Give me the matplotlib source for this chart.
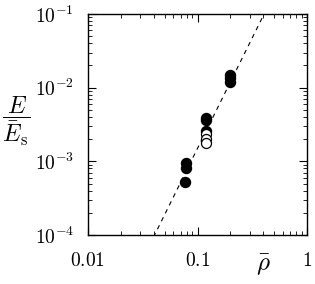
import numpy as np
import matplotlib
matplotlib.use('Agg')
import matplotlib.pyplot as plt

plt.rcParams['mathtext.fontset'] = 'cm'
plt.rcParams['font.family'] = 'serif'
plt.rcParams['font.serif'] = ['DejaVu Serif']

# filled circles
rho_full = [0.078, 0.078, 0.077, 0.119, 0.119, 0.119, 0.198, 0.198, 0.198]
E_full = [9.6e-4, 8.0e-4, 5.3e-4, 3.9e-3, 3.6e-3, 2.6e-3, 1.5e-2, 1.35e-2, 1.2e-2]
# open circles
rho_open = [0.119, 0.119, 0.119]
E_open = [2.35e-3, 2.0e-3, 1.8e-3]
# power-law guide E = C rho^3
C = 1.5
rho_line = [0.01, 1.0]

fig = plt.figure(figsize=(3.15, 2.84), dpi=100)
ax = fig.add_axes([88/315, 49/284, 219/315, 221/284])

ax.plot(rho_line, [C * r**3 for r in rho_line], 'k--', lw=0.8, dashes=(4, 4))
ax.plot(rho_full, E_full, 'o', ms=7.2, mfc='black', mec='black', ls='none')
ax.plot(rho_open, E_open, 'o', ms=7.2, mfc='white', mec='black', mew=0.9, ls='none')

ax.set_xscale('log')
ax.set_yscale('log')
ax.set_xlim(0.01, 1)
ax.set_ylim(1e-4, 1e-1)
ax.set_xticks([0.01, 0.1, 1])
ax.set_xticklabels([r'$0.01$', r'$0.1$', r'$1$'])
ax.set_yticks([1e-4, 1e-3, 1e-2, 1e-1])
ax.set_yticklabels([r'$10^{-4}$', r'$10^{-3}$', r'$10^{-2}$', r'$10^{-1}$'])
ax.tick_params(which='both', direction='in', top=True, right=True, labelsize=14)
ax.tick_params(which='major', length=6, width=0.8)
ax.tick_params(which='minor', length=3, width=0.6)
ax.tick_params(axis='y', pad=10)
ax.tick_params(axis='x', pad=12)
for s in ax.spines.values():
    s.set_linewidth(1.0)

fig.text(16/315, 1 - 121/284, r'$\dfrac{E}{\bar{E}_{\rm s}}$', ha='center', va='center', fontsize=17)
fig.text(263/315, 1 - 265/284, r'$\bar{\rho}$', ha='center', va='center', fontsize=18)

fig.savefig('out.png', dpi=100)
